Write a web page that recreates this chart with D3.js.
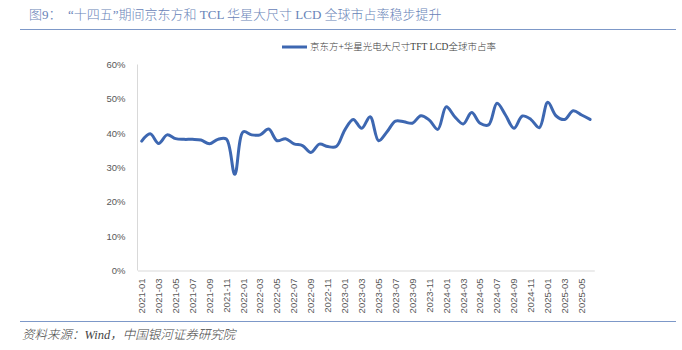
<!DOCTYPE html>
<html>
<head>
<meta charset="utf-8">
<script src="https://cdn.jsdelivr.net/npm/d3@7"></script>
<style>
	body { margin: 0; background: #fff; }
	svg text { font-family: "Liberation Sans", "Noto Sans CJK SC", sans-serif; }
</style>
</head>
<body>
<div id="graphic"></div>
<script>
// monthly shares, 2021-01 .. 2025-06
const months = [];
for (let y = 2021; y <= 2025; y++) {
	for (let m = 1; m <= 12; m++) {
		if (y === 2025 && m > 6) break;
		months.push(`${y}-${String(m).padStart(2, '0')}`);
	}
}
const shareValues = [
	37.7, 39.8, 37.0, 39.5, 38.4, 38.2, 38.2, 38.0, 36.9, 38.2, 38.3, 28.0,
	40.4, 39.5, 39.5, 41.2, 37.8, 38.4, 36.9, 36.4, 34.4, 36.8, 36.1, 36.1,
	40.9, 44.0, 41.4, 44.8, 37.8, 40.4, 43.5, 43.3, 42.9, 45.1, 43.8, 41.1,
	47.7, 44.8, 42.7, 46.0, 42.9, 42.4, 48.7, 45.3, 41.4, 45.0, 44.0, 41.6,
	49.0, 45.0, 44.0, 46.5, 45.3, 44.0
];
const yTicks = [0, 10, 20, 30, 40, 50, 60];
const seriesName = '京东方+华星光电大尺寸TFT LCD全球市占率';
const titleText = '图9：  “十四五”期间京东方和 TCL 华星大尺寸 LCD 全球市占率稳步提升';
const sourceText = '资料来源：Wind，中国银河证券研究院';

const data = months.map((d, i) => ({ date: d, value: shareValues[i] }));

const width = 682, height = 350;
const svg = d3.select('#graphic').append('svg')
	.attr('width', width)
	.attr('height', height);

// title and rules
svg.append('text')
	.attr('x', 29).attr('y', 19)
	.attr('fill', '#6883b8')
	.style('font-family', '"Liberation Serif", "Noto Sans CJK SC", serif')
	.style('font-weight', 300)
	.style('font-size', '13px')
	.style('white-space', 'pre')
	.text(titleText);

svg.append('line')
	.attr('x1', 20).attr('x2', 676).attr('y1', 29.5).attr('y2', 29.5)
	.attr('stroke', '#7d98c8').attr('stroke-width', 1.2);

svg.append('line')
	.attr('x1', 20).attr('x2', 676).attr('y1', 321.5).attr('y2', 321.5)
	.attr('stroke', '#7d98c8').attr('stroke-width', 1.2);

svg.append('text')
	.attr('x', 22).attr('y', 339)
	.attr('fill', '#444')
	.style('font-family', '"Liberation Serif", "Noto Sans CJK SC", serif')
	.style('font-style', 'italic')
	.style('font-weight', 300)
	.style('font-size', '12.5px')
	.text(sourceText);

// scales
const x = d3.scaleBand()
	.domain(months)
	.range([137.5, 594.3])
	.padding(0);

const y = d3.scaleLinear()
	.domain([0, 60])
	.range([270.5, 64.5]);

// axes
svg.append('line')
	.attr('x1', 137.5).attr('x2', 137.5).attr('y1', y(60)).attr('y2', y(0))
	.attr('stroke', '#d9d9d9');

const xAxis = svg.append('g')
	.attr('class', 'x axis')
	.attr('transform', `translate(0, ${y(0)})`)
	.call(d3.axisBottom(x)
		.tickValues(months.filter((d, i) => i % 2 === 0))
		.tickSize(0)
		.tickPadding(0));
xAxis.select('.domain').attr('stroke', '#d9d9d9');
xAxis.selectAll('text')
	.attr('transform', 'rotate(-90)')
	.attr('x', -8).attr('y', 0).attr('dy', '0.35em')
	.attr('text-anchor', 'end')
	.attr('fill', '#595959')
	.style('font-size', '9.5px');

const yAxis = svg.append('g')
	.attr('class', 'y axis')
	.attr('transform', 'translate(137.5, 0)')
	.call(d3.axisLeft(y).tickValues(yTicks).tickFormat(d => d + '%').tickSize(0).tickPadding(12));
yAxis.select('.domain').remove();
yAxis.selectAll('text')
	.attr('fill', '#595959')
	.style('font-size', '9.5px');

// line
const line = d3.line()
	.x(d => x(d.date) + x.bandwidth() / 2)
	.y(d => y(d.value))
	.curve(d3.curveCatmullRom.alpha(0.5));

svg.append('path')
	.datum(data)
	.attr('fill', 'none')
	.attr('stroke', '#3d67b1')
	.attr('stroke-width', 3)
	.attr('stroke-linejoin', 'round')
	.attr('stroke-linecap', 'round')
	.attr('d', line);

// legend
svg.append('line')
	.attr('x1', 282).attr('x2', 307).attr('y1', 47).attr('y2', 47)
	.attr('stroke', '#3d67b1').attr('stroke-width', 3);
svg.append('text')
	.attr('x', 310).attr('y', 47).attr('dy', '0.35em')
	.attr('fill', '#404040')
	.style('font-family', '"Liberation Serif", "Noto Sans CJK SC", serif')
	.style('font-weight', 300)
	.style('font-size', '9.5px')
	.text(seriesName);
</script>
</body>
</html>
